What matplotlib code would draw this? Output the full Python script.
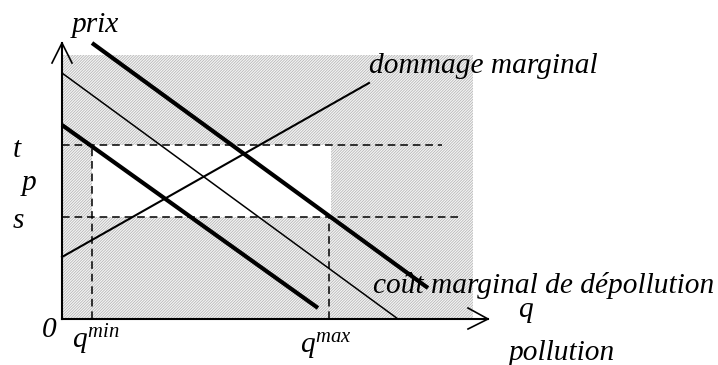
import matplotlib
matplotlib.use("Agg")
import matplotlib.pyplot as plt
from matplotlib.patches import PathPatch
from matplotlib.path import Path

plt.rcParams['mathtext.fontset'] = 'custom'
plt.rcParams['mathtext.it'] = 'Liberation Serif:italic'
plt.rcParams['mathtext.rm'] = 'Liberation Serif:italic'
plt.rcParams['hatch.linewidth'] = 0.5

# --- diagram values (schematic units: q along x, price along y) ---
axis_x_end = 426
axis_y_end = 276
shade_q = 411          # right edge of shaded area
shade_p = 264          # top edge of shaded area
q_min = 29.5
q_max = 267
price_t = 174
price_s = 102
price_p = 129
t_dash_end = 380
s_dash_end = 396

cost_high_q = [30, 366]
cost_high_p = [276, 31]
cost_mid_q = [0, 336]
cost_mid_p = [246, 0]
cost_low_q = [0, 256]
cost_low_p = [194, 11]
damage_q = [0, 307]
damage_p = [62, 236]

labels = {
    'prix': 'prix',
    'damage': 'dommage marginal',
    'cost': 'coût marginal de dépollution',
    'q': 'q',
    'pollution': 'pollution',
    't': 't', 'p': 'p', 's': 's', 'zero': '0',
    'qmin': r'$q^{min}$', 'qmax': r'$q^{max}$',
}

fig = plt.figure(figsize=(7.18, 3.65), dpi=100)
ax = fig.add_axes([0, 0, 1, 1])
ax.set_xlim(-62, 656)
ax.set_ylim(-46, 319)
ax.axis('off')

# shaded area minus white rectangle (compound path)
outer = [(0, 0), (shade_q, 0), (shade_q, shade_p), (0, shade_p), (0, 0)]
inner = [(q_min, price_s), (q_min, price_t), (q_max + 2, price_t), (q_max + 2, price_s), (q_min, price_s)]
verts = outer + inner
codes = [Path.MOVETO] + [Path.LINETO] * 3 + [Path.CLOSEPOLY] + [Path.MOVETO] + [Path.LINETO] * 3 + [Path.CLOSEPOLY]
path = Path(verts, codes)
ax.add_patch(PathPatch(path, facecolor='#f4f4f4', edgecolor='#b0b0b0', hatch='/' * 12, lw=0))

# dashed lines
dash = dict(color='black', lw=1.1, ls=(0, (5, 3.2)))
ax.plot([0, t_dash_end], [price_t, price_t], **dash)
ax.plot([0, s_dash_end], [price_s, price_s], **dash)
ax.plot([q_min, q_min], [0, price_t], **dash)
ax.plot([q_max, q_max], [0, price_s], **dash)

# curves
ax.plot(cost_high_q, cost_high_p, color='black', lw=3.0, solid_capstyle='butt')
ax.plot(cost_mid_q, cost_mid_p, color='black', lw=1.1)
ax.plot(cost_low_q, cost_low_p, color='black', lw=3.0, solid_capstyle='butt')
ax.plot(damage_q, damage_p, color='black', lw=1.5)

# axes with open arrow heads
ax.plot([0, 0], [0, axis_y_end], color='black', lw=1.5)
ax.plot([0, axis_x_end], [0, 0], color='black', lw=1.5)
ax.plot([-10, 0, 10], [axis_y_end - 20, axis_y_end, axis_y_end - 20], color='black', lw=1.2)
ax.plot([axis_x_end - 20, axis_x_end, axis_x_end - 20], [11, 0, -10], color='black', lw=1.2)

tk = dict(family='Liberation Serif', style='italic', fontsize=21.2, color='black')
ax.text(10, 287, labels['prix'], ha='left', va='baseline', **tk)
ax.text(307, 246, labels['damage'], ha='left', va='baseline', **tk)
ax.text(311, 26, labels['cost'], ha='left', va='baseline', **tk)
ax.text(456, 2, labels['q'], ha='left', va='baseline', **tk)
ax.text(447, -41, labels['pollution'], ha='left', va='baseline', **tk)
ax.text(-49, 162, labels['t'], ha='left', va='baseline', **tk)
ax.text(-40, 129, labels['p'], ha='left', va='baseline', **tk)
ax.text(-49, 91, labels['s'], ha='left', va='baseline', **tk)
ax.text(-20, -18, labels['zero'], ha='left', va='baseline', **tk)
ax.text(10, -29, labels['qmin'], ha='left', va='baseline', **tk)
ax.text(238, -34, labels['qmax'], ha='left', va='baseline', **tk)

fig.savefig('out.png', dpi=100)
